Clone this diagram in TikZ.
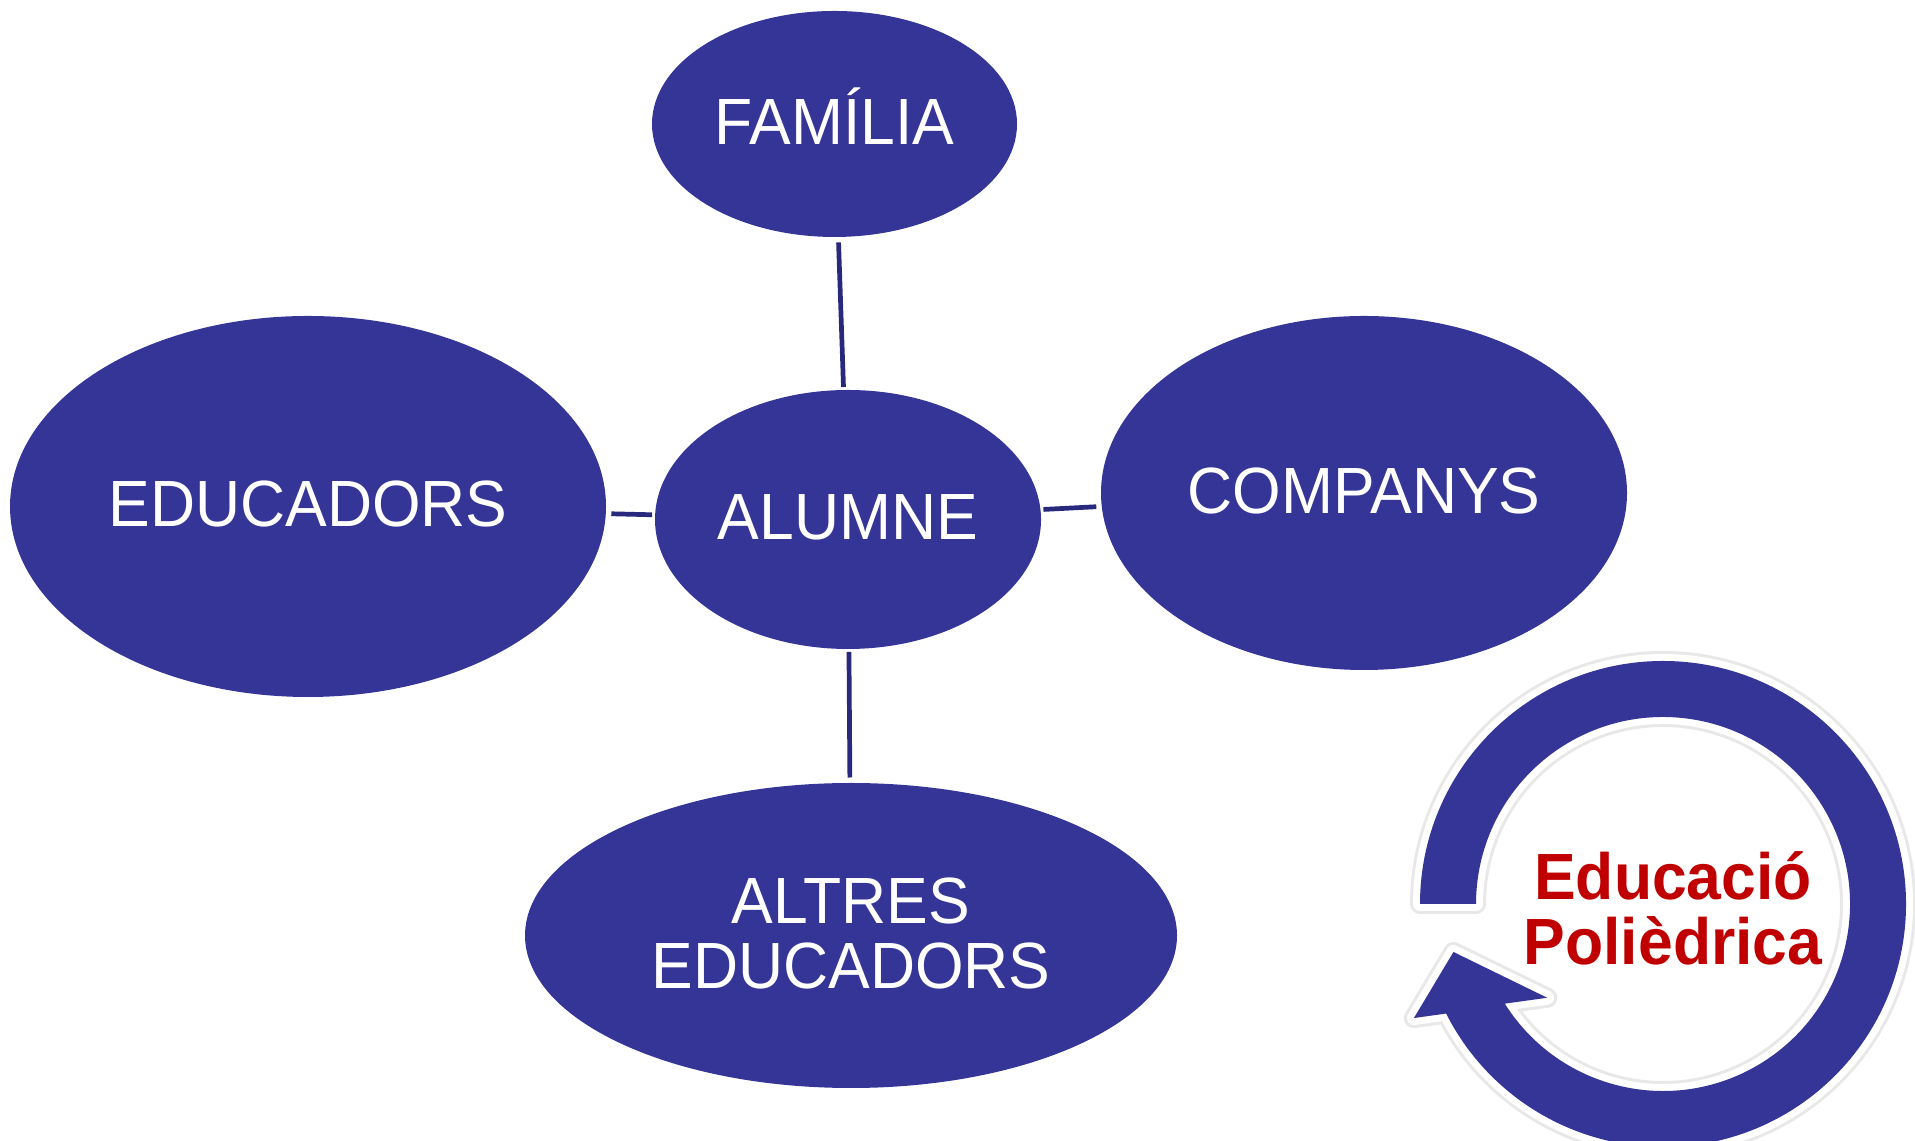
\documentclass[tikz,border=0pt]{standalone}
\usepackage{fontspec}
\usetikzlibrary{shapes.geometric}
\newfontfamily\labelfont[FakeStretch=0.955]{Liberation Sans}
\definecolor{bubblecol}{RGB}{53,53,152}
\definecolor{linkcol}{RGB}{40,40,125}
\definecolor{redtext}{RGB}{192,0,0}
\newcommand\tightlines{\lineskiplimit=-50pt\relax}
\begin{document}
\begin{tikzpicture}
  [bubble/.style={ellipse, fill=bubblecol, text=white, inner sep=0pt, outer sep=0pt, align=center,
     text height=0.47cm, text depth=0.06cm, font=\labelfont\fontsize{18.6}{18.6}\selectfont},
   link/.style={draw=linkcol, line width=1.34pt, shorten <=0.03cm, shorten >=0.055cm}]
  \useasboundingbox (0,0) rectangle (19.15,11.41);
  \clip (0,0) rectangle (19.15,11.41);

  \node[bubble, minimum width=3.65cm, minimum height=2.26cm] (familia) at (8.345,10.17) {FAMÍLIA};
  \node[bubble, minimum width=3.86cm, minimum height=2.59cm] (alumne) at (8.48,6.215) {ALUMNE};
  \node[bubble, minimum width=5.96cm, minimum height=3.81cm] (educadors) at (3.08,6.345) {EDUCADORS};
  \node[bubble, minimum width=5.26cm, minimum height=3.54cm] (companys) at (13.64,6.48) {COMPANYS};
  \node[bubble, minimum width=6.52cm, minimum height=3.05cm, text height=1.13cm] (altres) at (8.51,2.055) {ALTRES\\EDUCADORS};

  \foreach \to in {familia, educadors, companys, altres}
    \draw[link] (alumne) -- (\to);

  \begin{scope}[shift={(16.63,2.37)}]
    \fill[bubblecol, preaction={draw=black!9, line width=0.2cm, line join=round},
          preaction={draw=white, line width=0.14cm, line join=round}]
      (180:2.43) arc[start angle=180, end angle=-153.2, radius=2.43]
      -- (-155.4:2.74) -- (-167.1:2.15) -- (-141:1.49) -- (-147.8:1.87)
      arc[start angle=-147.8, end angle=180, radius=1.87] -- cycle;
  \end{scope}
  \node[text=redtext, align=center, font=\labelfont\bfseries\fontsize{18.6}{18.6}\selectfont\tightlines]
    (lema) at (16.73,2.325) {Educació\\Polièdrica};
\end{tikzpicture}
\end{document}
